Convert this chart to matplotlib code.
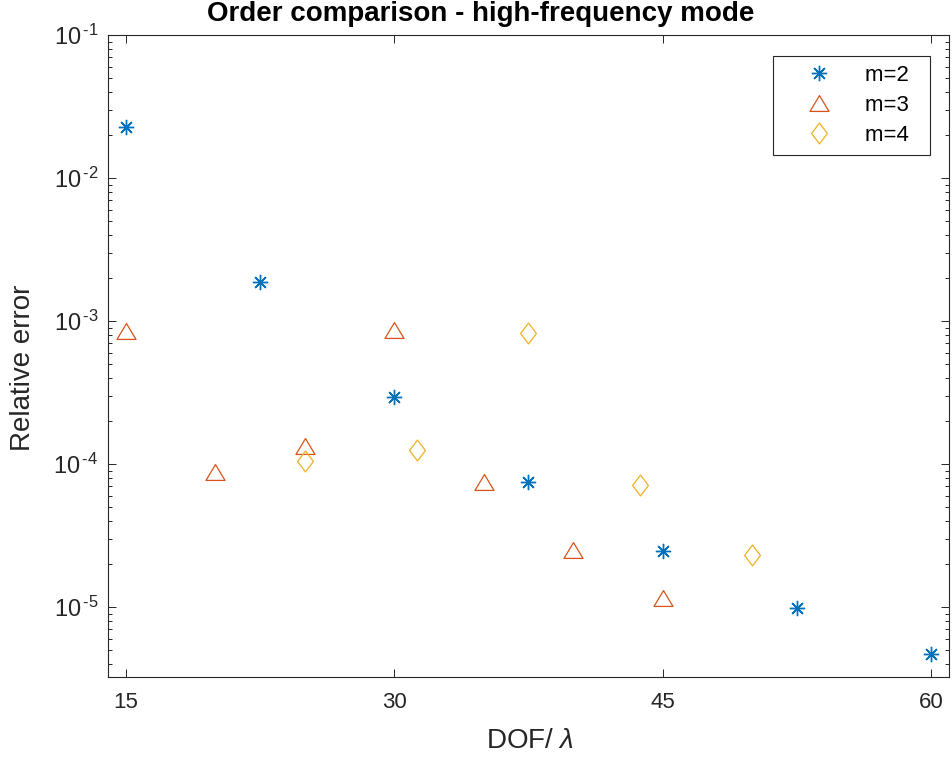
import numpy as np
import matplotlib
matplotlib.use("Agg")
import matplotlib.pyplot as plt
from matplotlib.path import Path

plt.rcParams['font.family'] = ['Liberation Sans', 'DejaVu Sans']
plt.rcParams['mathtext.fontset'] = 'custom'
plt.rcParams['mathtext.rm'] = 'Liberation Sans'
plt.rcParams['mathtext.it'] = 'Liberation Sans:italic'

# data
m2_x = [15, 22.5, 30, 37.5, 45, 52.5, 60]
m2_y = [2.27e-2, 1.87e-3, 2.94e-4, 7.5e-5, 2.48e-5, 9.8e-6, 4.7e-6]

m3_x = [15, 20, 25, 30, 35, 40, 45]
m3_y = [8.5e-4, 8.8e-5, 1.34e-4, 8.6e-4, 7.5e-5, 2.5e-5, 1.16e-5]

m4_x = [25, 31.25, 37.5, 43.75, 50]
m4_y = [1.05e-4, 1.25e-4, 8.2e-4, 7.1e-5, 2.31e-5]

labels = ['m=2', 'm=3', 'm=4']
x_ticks = [15, 30, 45, 60]
y_exps = [5, 4, 3, 2, 1]   # 10^-5 ... 10^-1

# matlab default colours
c_blue = '#0072BD'
c_red = '#D95319'
c_yel = '#EDB120'
dark = '#262626'

# matlab-like markers
tri = Path([(0, 0.5), (-0.6, -0.5), (0.6, -0.5), (0, 0.5)],
           [Path.MOVETO, Path.LINETO, Path.LINETO, Path.CLOSEPOLY])
dia = Path([(0, 0.5), (0.38, 0), (0, -0.5), (-0.38, 0), (0, 0.5)],
           [Path.MOVETO, Path.LINETO, Path.LINETO, Path.LINETO, Path.CLOSEPOLY])

fig = plt.figure(figsize=(9.52, 7.57), dpi=100)
ax = fig.add_axes([108/952, 1 - 677/757, (949 - 108)/952, (677 - 35)/757])

ax.plot(m2_x, m2_y, linestyle='none', marker=(8, 2, 0), markersize=11,
        markeredgewidth=1.0, color=c_blue, label=labels[0] + '  ')
ax.plot(m3_x, m3_y, linestyle='none', marker=tri, markersize=13.7,
        markeredgewidth=0.9, markerfacecolor='none', markeredgecolor=c_red, label=labels[1] + '  ')
ax.plot(m4_x, m4_y, linestyle='none', marker=dia, markersize=15,
        markeredgewidth=0.9, markerfacecolor='none', markeredgecolor=c_yel, label=labels[2] + '  ')

ax.set_yscale('log')
ax.set_xlim(14, 61)
ax.set_ylim(3.24e-6, 1e-1)
ax.set_xticks(x_ticks)
ax.set_xticklabels([str(t) for t in x_ticks])
ax.set_yticks([10.0**(-e) for e in y_exps])
ax.set_yticklabels([r'$\mathdefault{10^{\,\text{-}%d}}$' % e for e in y_exps])

ax.tick_params(axis='both', which='both', direction='in', top=True, right=True,
               colors=dark, width=0.7)
ax.tick_params(axis='x', labelsize=16, pad=11)
ax.tick_params(axis='y', labelsize=17, pad=7)
ax.tick_params(axis='both', which='major', length=6)
ax.tick_params(axis='both', which='minor', length=3)
ax.tick_params(axis='x', which='minor', bottom=False, top=False)
for s in ax.spines.values():
    s.set_color(dark)
    s.set_linewidth(0.8)

fig.text(481/952, 1 - 21/757, 'Order comparison - high-frequency mode',
         ha='center', va='baseline', fontsize=20, fontweight='bold')
fig.text(0.024, 1 - 368/757, 'Relative error', rotation=90,
         ha='center', va='center', fontsize=20, color=dark)
fig.text(530/952, 1 - 748/757, r'DOF/ $\lambda$', ha='center', va='baseline',
         fontsize=20, color=dark)

leg = ax.legend(loc='upper right', bbox_to_anchor=(930/952, 1 - 56/757),
                bbox_transform=fig.transFigure, borderaxespad=0, fontsize=16,
                fancybox=False, edgecolor=dark, framealpha=1, borderpad=0.4,
                handlelength=3.36, handletextpad=0.37, labelspacing=0.4, numpoints=1)
leg.get_frame().set_linewidth(0.8)

fig.savefig('out.png', dpi=100)
